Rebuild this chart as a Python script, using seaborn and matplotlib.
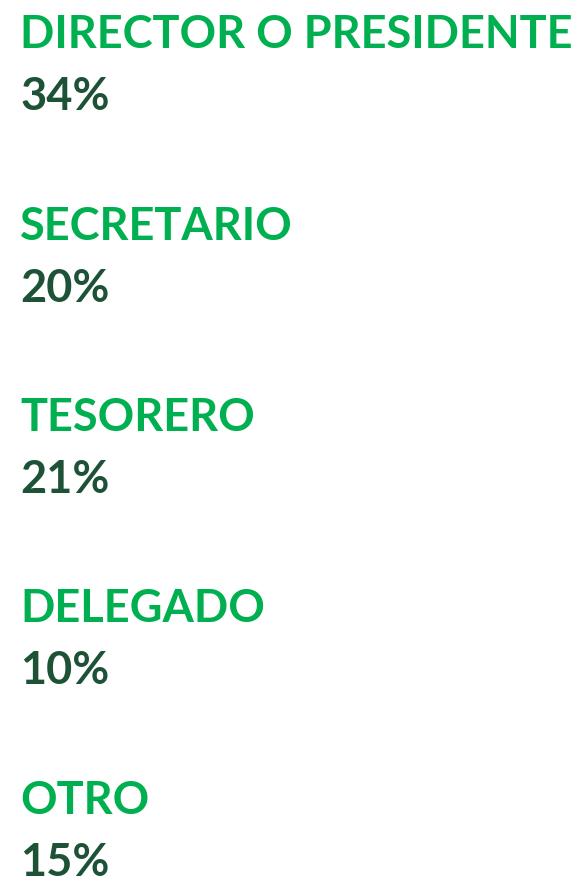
import matplotlib
matplotlib.use("Agg")
import matplotlib.pyplot as plt
import seaborn as sns

# data
roles = ["DIRECTOR O PRESIDENTE", "SECRETARIO", "TESORERO", "DELEGADO", "OTRO"]
shares = [34, 20, 21, 10, 15]

sns.set_theme(style="white")
plt.rcParams['font.family'] = ['Lato', 'DejaVu Sans']

label_color = "#00B050"
value_color = "#1D5236"

fig = plt.figure(figsize=(5.79, 8.84), dpi=100)
ax = fig.add_axes([0, 0, 1, 1])
ax.set_xlim(0, 579)
ax.set_ylim(884, 0)
ax.axis("off")

# fit font size so the longest label spans ~552 px
probe = ax.text(0, 0, roles[0], fontsize=40, fontweight="bold")
fig.canvas.draw()
w = probe.get_window_extent().width
probe.remove()
fs = 40 * 552 / w

step = 191.5
for i, (role, share) in enumerate(zip(roles, shares)):
    ax.text(20, 48 + i * step, role, fontsize=fs, fontweight="bold",
            color=label_color, va="baseline", ha="left")
    ax.text(20, 110 + i * step, f"{share}%", fontsize=fs, fontweight="bold",
            color=value_color, va="baseline", ha="left")

fig.savefig("out.png", dpi=100)
